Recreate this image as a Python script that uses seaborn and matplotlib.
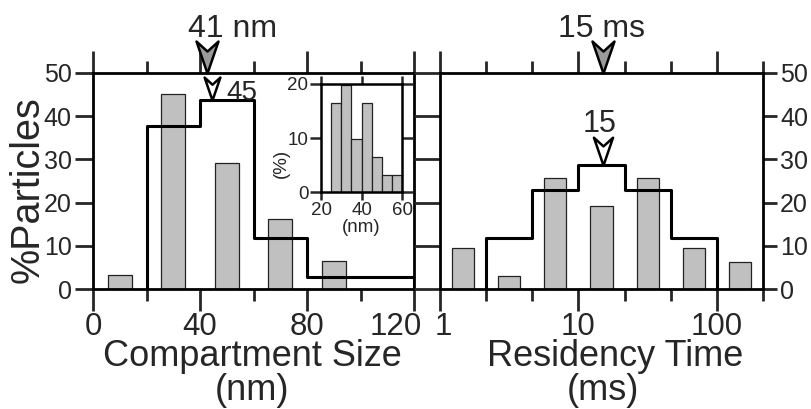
import numpy as np
import pandas as pd
import seaborn as sns
import matplotlib
matplotlib.use("Agg")
import matplotlib.pyplot as plt
from matplotlib.path import Path
from matplotlib.markers import MarkerStyle
from matplotlib.ticker import FixedLocator, NullFormatter, FixedFormatter
from matplotlib.transforms import ScaledTranslation

# ---------------- data ----------------
size_bar_edges = [0, 20, 40, 60, 80, 100]
size_bar_values = [3.2, 45.0, 29.2, 16.2, 6.5]
size_step_edges = [20, 40, 60, 80, 100, 120]
size_step_values = [37.7, 43.8, 11.8, 2.9, 2.9]

inset_edges = [25, 30, 35, 40, 45, 50, 55, 60]
inset_values = [16.5, 19.8, 9.8, 16.5, 6.6, 3.2, 3.2]

time_bar_log_centers = [1/6, 1/2, 5/6, 7/6, 3/2, 11/6, 13/6]
time_bar_values = [9.6, 3.1, 25.6, 19.3, 25.6, 9.6, 6.4]
time_step_log_edges = [1/3, 2/3, 1, 4/3, 5/3, 2]
time_step_values = [11.8, 22.9, 28.7, 22.9, 11.8]

size_mean_pos, size_mean_label = 42.5, "41 nm"
size_peak_pos, size_peak_y, size_peak_label = 44.5, 43.8, "45"
time_mean_pos, time_mean_label = 15, "15 ms"
time_peak_pos, time_peak_y, time_peak_label = 15, 28.7, "15"

size_ticks = [0, 40, 80, 120]
size_minor = [20, 60, 100]
time_ticks = [1, 10, 100]
time_tick_labels = ["1", "10", "100"]
time_minor_log = [1/3, 2/3, 4/3, 5/3, 7/3]
pct_ticks = [0, 10, 20, 30, 40, 50]
inset_xticks = [20, 40, 60]
inset_yticks = [0, 10, 20]

# ---------------- style ----------------
sns.set_style("ticks")
plt.rcParams["font.family"] = ["Liberation Sans", "DejaVu Sans"]
plt.rcParams["axes.linewidth"] = 2.0
BAR_GRAY = "#c0c0c0"
LW = 2.0

W, H = 811, 409
fig = plt.figure(figsize=(W / 100, H / 100), dpi=100)
fig.patch.set_facecolor("white")

def fx(px):
    return px / W

def fy(py):
    return 1 - py / H

TOP, BOT = 72.7, 289.3
ax1 = fig.add_axes([fx(93), fy(BOT), (414.3 - 93) / W, (BOT - TOP) / H])
ax2 = fig.add_axes([fx(439.6), fy(BOT), (763.3 - 439.6) / W, (BOT - TOP) / H])
ax3 = fig.add_axes([fx(321), fy(192.3), (402.3 - 321) / W, (192.3 - 84) / H])

for ax in (ax1, ax2, ax3):
    ax.set_facecolor("white")
    for s in ax.spines.values():
        s.set_visible(True)
        s.set_linewidth(LW)
        s.set_color("black")

# ---------------- left panel: compartment size ----------------
size_centers = [(a + b) / 2 for a, b in zip(size_bar_edges[:-1], size_bar_edges[1:])]
sns.histplot(x=size_centers, weights=size_bar_values, bins=size_bar_edges, shrink=0.45,
             color=BAR_GRAY, edgecolor="#222222", linewidth=0.9, alpha=1, ax=ax1)
sx = [size_step_edges[0]] + list(size_step_edges)
sy = [0] + list(size_step_values) + [0]
sns.lineplot(x=sx, y=sy, drawstyle="steps-post", estimator=None, sort=False,
             color="black", linewidth=2.2, ax=ax1)
ax1.set_xlim(0, 120)
ax1.set_ylim(0, 50)
ax1.xaxis.set_major_locator(FixedLocator(size_ticks))
ax1.xaxis.set_minor_locator(FixedLocator(size_minor))
ax1.yaxis.set_major_locator(FixedLocator(pct_ticks))
ax1.tick_params(axis="x", which="major", direction="out", length=15.8, width=LW,
                top=True, bottom=True, labeltop=False, labelsize=22.5, pad=0.8)
ax1.tick_params(axis="x", which="minor", direction="out", length=8.3, width=LW,
                top=True, bottom=True)
ax1.tick_params(axis="y", which="major", direction="out", length=13, width=LW,
                left=True, right=False, labelsize=18, pad=2.4)
ax1.set_xlabel("")
ax1.set_ylabel("%Particles", fontsize=28.5)
ax1.yaxis.label.set_va("baseline")
ax1.yaxis.set_label_coords((38.5 - 93) / 321.3, (BOT - 190) / (BOT - TOP))

# ---------------- inset ----------------
inset_centers = [(a + b) / 2 for a, b in zip(inset_edges[:-1], inset_edges[1:])]
sns.histplot(x=inset_centers, weights=inset_values, bins=inset_edges,
             color=BAR_GRAY, edgecolor="#222222", linewidth=0.9, alpha=1, ax=ax3)
ax3.set_xlim(20, 60)
ax3.set_ylim(0, 20)
ax3.xaxis.set_major_locator(FixedLocator(inset_xticks))
ax3.yaxis.set_major_locator(FixedLocator(inset_yticks))
ax3.tick_params(axis="x", direction="out", length=6, width=1.8, top=True, bottom=True,
                labelsize=13.5, pad=1)
ax3.tick_params(axis="y", direction="out", length=8, width=1.8, left=True, right=True,
                labelsize=13.5, pad=1)
for s in ax3.spines.values():
    s.set_linewidth(1.8)
ax3.set_xlabel("(nm)", fontsize=13.5)
ax3.xaxis.label.set_va("baseline")
ax3.xaxis.set_label_coords((361 - 321) / 81.3, (192.3 - 232) / 108.3)
ax3.set_ylabel("(%)", fontsize=13.5)
ax3.yaxis.label.set_va("baseline")
ax3.yaxis.set_label_coords((286 - 321) / 81.3, (192.3 - 163) / 108.3)

# ---------------- right panel: residency time ----------------
ax2.set_xscale("log")
hw = 0.08
lefts = [10 ** (c - hw) for c in time_bar_log_centers]
widths = [10 ** (c + hw) - 10 ** (c - hw) for c in time_bar_log_centers]
ax2.bar(lefts, time_bar_values, width=widths, align="edge", color=BAR_GRAY,
        edgecolor="#222222", linewidth=0.9)
tedges = [10 ** e for e in time_step_log_edges]
tx = [tedges[0]] + tedges
ty = [0] + list(time_step_values) + [0]
sns.lineplot(x=tx, y=ty, drawstyle="steps-post", estimator=None, sort=False,
             color="black", linewidth=2.2, ax=ax2)
ax2.set_xlim(1, 10 ** (7 / 3))
ax2.set_ylim(0, 50)
ax2.xaxis.set_major_locator(FixedLocator(time_ticks))
ax2.xaxis.set_major_formatter(FixedFormatter(time_tick_labels))
ax2.xaxis.set_minor_locator(FixedLocator([10 ** v for v in time_minor_log]))
ax2.xaxis.set_minor_formatter(NullFormatter())
ax2.yaxis.set_major_locator(FixedLocator(pct_ticks))
ax2.tick_params(axis="x", which="major", direction="out", length=15.8, width=LW,
                top=True, bottom=True, labeltop=False, labelsize=22.5, pad=0.8)
ax2.tick_params(axis="x", which="minor", direction="out", length=8.3, width=LW,
                top=True, bottom=True)
ax2.tick_params(axis="y", which="major", direction="out", length=10, width=LW,
                left=True, right=True, labelleft=False, labelright=True,
                labelsize=18, pad=2)
ax2.set_xlabel("")
ax2.set_ylabel("")
for t in ax2.yaxis.get_major_ticks():
    t.tick1line.set_markersize(18.7)

# ---------------- markers (arrowheads) ----------------
arrow = MarkerStyle(Path([(0, 0), (-11, 32), (0, 22), (11, 32), (0, 0)],
                         [Path.MOVETO, Path.LINETO, Path.LINETO, Path.LINETO, Path.CLOSEPOLY]))
ax1.plot([size_mean_pos], [50], ls="none", marker=arrow, ms=46, mfc="#9a9a9a",
         mec="black", mew=1.8, clip_on=False, zorder=10)
ax1.plot([size_peak_pos], [size_peak_y], ls="none", marker=arrow, ms=33, mfc="white",
         mec="black", mew=1.8, clip_on=False, zorder=10)
ax2.plot([time_mean_pos], [50], ls="none", marker=arrow, ms=46, mfc="#9a9a9a",
         mec="black", mew=1.8, clip_on=False, zorder=10)
ax2.plot([time_peak_pos], [time_peak_y], ls="none", marker=arrow, ms=40, mfc="white",
         mec="black", mew=1.8, clip_on=False, zorder=10)

fig.text(fx(233), fy(36.7), size_mean_label, ha="center", va="baseline", fontsize=23)
fig.text(fx(242), fy(100), size_peak_label, ha="center", va="baseline", fontsize=20)
fig.text(fx(602), fy(36.7), time_mean_label, ha="center", va="baseline", fontsize=23)
fig.text(fx(600), fy(132), time_peak_label, ha="center", va="baseline", fontsize=22)

# axis titles (two lines each)
fig.text(fx(252), fy(366), "Compartment Size", ha="center", va="baseline", fontsize=26)
fig.text(fx(252.5), fy(400.5), "(nm)", ha="center", va="baseline", fontsize=26)
fig.text(fx(615), fy(366), "Residency Time", ha="center", va="baseline", fontsize=26)
fig.text(fx(603), fy(400.5), "(ms)", ha="center", va="baseline", fontsize=26)

# nudge crowded tick labels between the panels
fig.canvas.draw()
lab120 = ax1.xaxis.get_major_ticks()[-1].label1
lab120.set_transform(lab120.get_transform() + ScaledTranslation(-0.19, 0, fig.dpi_scale_trans))
lab1 = ax2.xaxis.get_major_ticks()[0].label1
lab1.set_transform(lab1.get_transform() + ScaledTranslation(0.04, 0, fig.dpi_scale_trans))

fig.savefig("out.png", dpi=100, facecolor="white")
